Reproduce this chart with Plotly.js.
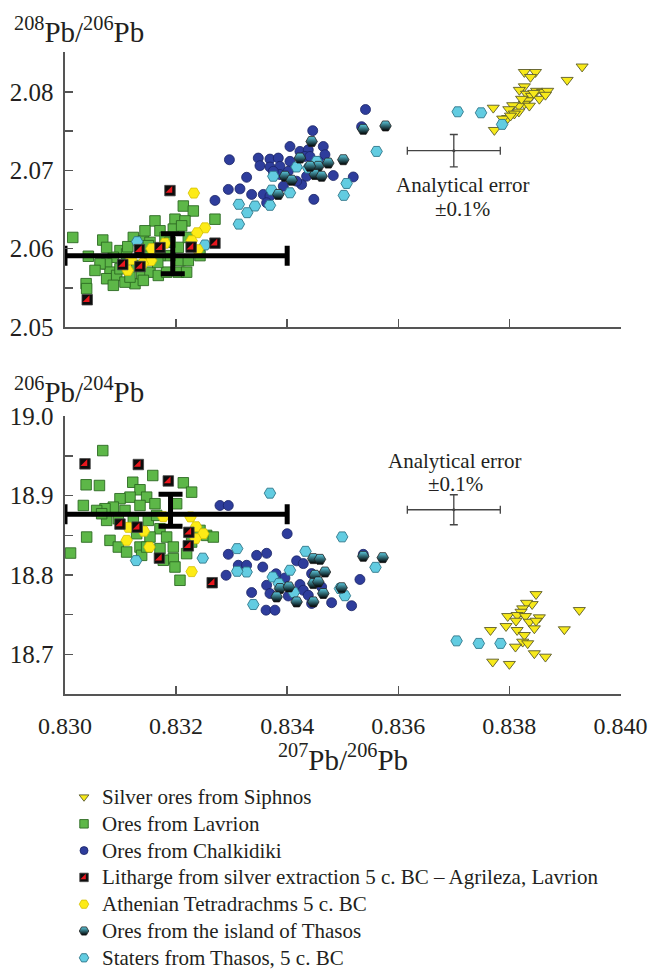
<!DOCTYPE html>
<html><head><meta charset="utf-8">
<script src="https://cdn.plot.ly/plotly-3.0.1.min.js"></script>
<style>html,body{margin:0;padding:0;background:#fff}#chart{width:648px;height:973px}</style>
</head><body><div id="chart"></div>
<script>
// ---------- data (207Pb/206Pb vs 208Pb/206Pb : "Top", vs 206Pb/204Pb : "Bot") ----------
const siphnosTopX = [0.83931,0.83904,0.83827,0.83847,0.83838,0.83827,0.83818,0.83831,0.83840,0.83849,0.83860,0.83869,0.83854,0.83833,0.83827,0.83817,0.83806,0.83799,0.83817,0.83771,0.83797,0.83788,0.83773,0.83822,0.83809,0.83836,0.83802,0.83844,0.83865];
const siphnosTopY = [2.08323,2.08152,2.08253,2.08253,2.08190,2.08070,2.08025,2.07975,2.07949,2.08013,2.08000,2.08013,2.07911,2.07892,2.07848,2.07823,2.07829,2.07778,2.07747,2.07797,2.07665,2.07658,2.07513,2.07911,2.07722,2.07823,2.07696,2.07987,2.07962];
const siphnosBotX = [0.83848,0.83926,0.83841,0.83831,0.83824,0.83821,0.83797,0.83814,0.83829,0.83854,0.83794,0.83812,0.83836,0.83848,0.83845,0.83814,0.83766,0.83899,0.83827,0.83824,0.83811,0.83845,0.83865,0.83770,0.83800,0.83833];
const siphnosBotY = [18.7758,18.7557,18.7632,18.7648,18.7578,18.7535,18.7481,18.7494,18.7481,18.7465,18.7355,18.7422,18.7409,18.7422,18.7326,18.7305,18.7305,18.7314,18.7242,18.7158,18.7095,18.7012,18.6969,18.6906,18.6877,18.7138];

const lavrionTopX = [0.83014,0.83068,0.83042,0.83038,0.83039,0.83213,0.83231,0.83270,0.83198,0.83216,0.83162,0.83171,0.83195,0.83210,0.83123,0.83141,0.83153,0.83099,0.83087,0.83111,0.83075,0.83081,0.83075,0.83093,0.83126,0.83108,0.83138,0.83153,0.83168,0.83183,0.83204,0.83219,0.83207,0.83222,0.83189,0.83171,0.83153,0.83204,0.83150,0.83180,0.83243,0.83222,0.83075,0.83063,0.83129,0.83117,0.83141,0.83099,0.83189,0.83087,0.83054,0.83113,0.83167,0.83144];
const lavrionTopY = [2.06143,2.06110,2.05903,2.05553,2.05490,2.06544,2.06481,2.06376,2.06376,2.06354,2.06354,2.06228,2.06249,2.06291,2.06143,2.06101,2.06080,2.05975,2.05890,2.05933,2.05806,2.05700,2.05616,2.05658,2.05553,2.05573,2.05680,2.05700,2.05658,2.05700,2.05700,2.05700,2.05848,2.05848,2.05911,2.05911,2.05933,2.06016,2.06038,2.06143,2.05911,2.06143,2.06016,2.05806,2.05785,2.05637,2.05595,2.05743,2.06080,2.05532,2.05722,2.06025,2.05823,2.06228];
const lavrionBotX = [0.83068,0.83038,0.83062,0.83033,0.83039,0.83010,0.83122,0.83135,0.83158,0.83213,0.83228,0.83117,0.83099,0.83147,0.83162,0.83201,0.83087,0.83072,0.83057,0.83135,0.83108,0.83075,0.83096,0.83123,0.83150,0.83165,0.83171,0.83129,0.83153,0.83183,0.83081,0.83096,0.83135,0.83171,0.83195,0.83219,0.83138,0.83195,0.83198,0.83255,0.83267,0.83243,0.83228,0.83207,0.83177,0.83111,0.83147,0.83066];
const lavrionBotY = [18.9569,18.9138,18.9129,18.8877,18.8479,18.8277,18.9170,18.9075,18.9255,18.9163,18.9045,18.8982,18.8962,18.8982,18.8899,18.8899,18.8856,18.8836,18.8814,18.8877,18.8814,18.8689,18.8710,18.8689,18.8689,18.8752,18.8584,18.8521,18.8479,18.8479,18.8437,18.8353,18.8353,18.8333,18.8353,18.8270,18.8248,18.8207,18.8101,18.8500,18.8479,18.8563,18.8416,18.7934,18.8186,18.8290,18.8353,18.8773];

const chalkTopX = [0.83541,0.83446,0.83296,0.83348,0.83369,0.83384,0.83405,0.83423,0.83438,0.83465,0.83468,0.83351,0.83369,0.83387,0.83405,0.83432,0.83327,0.83294,0.83315,0.83336,0.83357,0.83270,0.83483,0.83519,0.83448,0.83426,0.83435,0.83417,0.83393,0.83369,0.83363,0.83441,0.83456,0.83387,0.83375,0.83402,0.83534];
const chalkTopY = [2.07776,2.07506,2.07135,2.07156,2.07143,2.07156,2.07304,2.07241,2.07262,2.07304,2.07199,2.07059,2.07042,2.07051,2.07114,2.07177,2.06911,2.06756,2.06763,2.06692,2.06692,2.06616,2.06933,2.06915,2.06629,2.06819,2.06924,2.06861,2.06797,2.06671,2.06586,2.07177,2.07114,2.06946,2.06987,2.06987,2.07557];
const chalkBotX = [0.83279,0.83294,0.83400,0.83294,0.83345,0.83363,0.83312,0.83356,0.83290,0.83417,0.83429,0.83380,0.83396,0.83423,0.83429,0.83336,0.83363,0.83362,0.83378,0.83444,0.83480,0.83516,0.83531,0.83402,0.83438,0.83462,0.83369,0.83327,0.83444,0.83537];
const chalkBotY = [18.8877,18.8877,18.8521,18.8261,18.8248,18.8274,18.8123,18.8101,18.7997,18.8179,18.8144,18.8016,18.7963,18.7880,18.7808,18.7779,18.7871,18.7557,18.7557,18.7641,18.7651,18.7613,18.7944,18.7736,18.7745,18.7850,18.7767,18.8123,18.8018,18.8261];

const lithTopX = [0.83189,0.83270,0.83040,0.83134,0.83171,0.83104,0.83135,0.83227];
const lithTopY = [2.06741,2.06070,2.05348,2.05987,2.06013,2.05797,2.05772,2.06019];
const lithBotX = [0.83036,0.83132,0.83186,0.83099,0.83130,0.83223,0.83222,0.83170,0.83265];
const lithBotY = [18.9402,18.9393,18.9186,18.8642,18.8604,18.8538,18.8368,18.8213,18.7903];

const athTopX = [0.83232,0.83252,0.83238,0.83228,0.83180,0.83119,0.83155,0.83140,0.83113,0.83239,0.83156];
const athTopY = [2.06709,2.06266,2.06203,2.06101,2.06070,2.05861,2.05848,2.05810,2.05722,2.05987,2.06000];
const athBotX = [0.83114,0.83142,0.83111,0.83152,0.83236,0.83249,0.83235,0.83228,0.83177,0.83226];
const athBotY = [18.8601,18.8553,18.8437,18.8353,18.8609,18.8521,18.8459,18.8043,18.8735,18.8733];

const thasosTopX = [0.83537,0.83577,0.83444,0.83423,0.83501,0.83474,0.83456,0.83396,0.83408,0.83450,0.83462,0.83384,0.83441];
const thasosTopY = [2.07523,2.07566,2.07367,2.07156,2.07135,2.07092,2.07051,2.06924,2.06873,2.06946,2.06924,2.06692,2.07051];
const thasosBotX = [0.83447,0.83459,0.83537,0.83572,0.83450,0.83468,0.83447,0.83387,0.83403,0.83381,0.83417,0.83447,0.83498,0.83465,0.83456];
const thasosBotY = [18.8207,18.8198,18.8236,18.8219,18.7997,18.8038,18.7892,18.7830,18.7850,18.7724,18.7661,18.7661,18.7840,18.7767,18.7913];

const statersTopX = [0.83707,0.83749,0.83787,0.83561,0.83417,0.83438,0.83453,0.83375,0.83372,0.83405,0.83507,0.83502,0.83313,0.83342,0.83328,0.83369,0.83313,0.83130,0.83252];
const statersTopY = [2.07747,2.07734,2.07586,2.07241,2.07042,2.07029,2.07114,2.06924,2.06747,2.06713,2.06832,2.06680,2.06566,2.06544,2.06459,2.06553,2.06313,2.06089,2.06047];
const statersBotX = [0.83499,0.83310,0.83248,0.83433,0.83405,0.83327,0.83310,0.83374,0.83339,0.83412,0.83559,0.83504,0.83495,0.83385,0.83128,0.83369,0.83705,0.83745,0.83784];
const statersBotY = [18.8481,18.8333,18.8213,18.8299,18.8060,18.8038,18.8047,18.7975,18.7628,18.7779,18.8097,18.7739,18.7830,18.7892,18.8182,18.9032,18.7170,18.7138,18.7138];

// mean and spread crosses
const spreadTopX = [0.83194], spreadTopY = [2.0591];
const spreadTopXMinus = [0.00194], spreadTopXPlus = [0.00206], spreadTopYMinus = [0.0023], spreadTopYPlus = [0.0028];
const spreadBotX = [0.83190], spreadBotY = [18.8767];
const spreadBotXMinus = [0.0019], spreadBotXPlus = [0.0021], spreadBotYMinus = [0.0151], spreadBotYPlus = [0.0253];
// analytical error (+/-0.1%)
const analX = [0.8370], analTopY = [2.0725], analBotY = [18.8823];
const analXErr = [0.000837], analTopYErr = [0.00207], analBotYErr = [0.0189];

// ticks / labels
const xTick0 = 0.830, xDtick = 0.002;
const legendLabels = ["Silver ores from Siphnos","Ores from Lavrion","Ores from Chalkidiki",
  "Litharge from silver extraction 5 c. BC – Agrileza, Lavrion","Athenian Tetradrachms 5 c. BC",
  "Ores from the island of Thasos","Staters from Thasos, 5 c. BC"];
const legendRow = [0,1,2,3,4,5,6];

// ---------- styles ----------
const FONT = '"Liberation Serif", "Times New Roman", serif';
const S = {
  siphnos: {symbol:'triangle-down', size:10.5, color:'#f7e91a', line:{color:'#5a5a2a', width:0.9}},
  lavrion: {symbol:'square', size:10.5, color:'#5db748', line:{color:'#2d6a22', width:0.9}},
  chalk:   {symbol:'circle', size:10, color:'#2e3d9c', line:{color:'#1b2466', width:0.8}},
  lith:    {symbol:'square', size:10.5, color:'#0d0d0d', line:{color:'#444', width:0.8}},
  ath:     {symbol:'hexagon2', size:11.5, color:'#fdeb16', line:{color:'#d4bf00', width:0.8}},
  thasos:  {symbol:'hexagon2', size:11.5, color:'#5ccbe0', gradient:{type:'vertical', color:'#000000'}, line:{color:'#1f1f1f', width:0.8}},
  staters: {symbol:'hexagon2', size:11.5, color:'#62cce1', line:{color:'#2f7689', width:0.9}}
};
const RED = {symbol:'triangle-se', size:7.5, color:'#e8161d', line:{width:0}};

function pts(name, x, y, xa, ya, marker){
  return {type:'scatter', mode:'markers', name, x, y, xaxis:xa, yaxis:ya, marker, cliponaxis:false, showlegend:false, hoverinfo:'x+y+name'};
}
const traces = [];
const series = [
  ['Ores from Lavrion', lavrionTopX, lavrionTopY, lavrionBotX, lavrionBotY, S.lavrion],
  ['Ores from Chalkidiki', chalkTopX, chalkTopY, chalkBotX, chalkBotY, S.chalk],
  ['Silver ores from Siphnos', siphnosTopX, siphnosTopY, siphnosBotX, siphnosBotY, S.siphnos],
  ['Staters from Thasos, 5 c. BC', statersTopX, statersTopY, statersBotX, statersBotY, S.staters],
  ['Ores from the island of Thasos', thasosTopX, thasosTopY, thasosBotX, thasosBotY, S.thasos],
  ['Athenian Tetradrachms 5 c. BC', athTopX, athTopY, athBotX, athBotY, S.ath],
  ['Litharge', lithTopX, lithTopY, lithBotX, lithBotY, S.lith]
];
series.forEach(s => {
  traces.push(pts(s[0], s[1], s[2], 'x', 'y', s[5]));
  traces.push(pts(s[0], s[3], s[4], 'x2', 'y2', s[5]));
});
traces.push(pts('Litharge', lithTopX, lithTopY, 'x', 'y', RED));
traces.push(pts('Litharge', lithBotX, lithBotY, 'x2', 'y2', RED));

function cross(x, y, xa, ya, ex, ey, color, thick, wx, wy, msize){
  return {type:'scatter', mode:'markers', x, y, xaxis:xa, yaxis:ya, showlegend:false, cliponaxis:false, hoverinfo:'skip',
    marker:{size:msize, color:color},
    error_x:Object.assign({type:'data', symmetric:false, color:color, thickness:thick, width:wx}, ex),
    error_y:Object.assign({type:'data', symmetric:false, color:color, thickness:thick, width:wy}, ey)};
}
traces.push(cross(spreadTopX, spreadTopY, 'x', 'y', {array:spreadTopXPlus, arrayminus:spreadTopXMinus}, {array:spreadTopYPlus, arrayminus:spreadTopYMinus}, '#000', 5, 10, 12, 2));
traces.push(cross(spreadBotX, spreadBotY, 'x2', 'y2', {array:spreadBotXPlus, arrayminus:spreadBotXMinus}, {array:spreadBotYPlus, arrayminus:spreadBotYMinus}, '#000', 5, 10, 12, 2));
traces.push(cross(analX, analTopY, 'x', 'y', {array:analXErr, arrayminus:analXErr}, {array:analTopYErr, arrayminus:analTopYErr}, '#444', 1.3, 4, 4, 3));
traces.push(cross(analX, analBotY, 'x2', 'y2', {array:analXErr, arrayminus:analXErr}, {array:analBotYErr, arrayminus:analBotYErr}, '#444', 1.3, 4, 4, 3));

// legend symbols drawn on a hidden axis
const legendStyles = [S.siphnos, S.lavrion, S.chalk, S.lith, S.ath, S.thasos, S.staters];
legendStyles.forEach((st, i) => {
  const m = Object.assign({}, st, {size: st.size - 2});
  traces.push({type:'scatter', mode:'markers', x:[0], y:[legendRow[i]], xaxis:'x3', yaxis:'y3', marker:m, showlegend:false, hoverinfo:'skip', cliponaxis:false});
});
traces.push({type:'scatter', mode:'markers', x:[0], y:[legendRow[3]], xaxis:'x3', yaxis:'y3', marker:Object.assign({}, RED, {size:6}), showlegend:false, hoverinfo:'skip', cliponaxis:false});

const tickF = {family:FONT, size:25, color:'#231f20'};
const xTickF = {family:FONT, size:24, color:'#231f20'};
const axisCommon = {showgrid:false, zeroline:false, showline:true, linecolor:'#555', linewidth:1.6,
  ticks:'inside', ticklen:8, tickwidth:1.4, tickcolor:'#555', tickfont:tickF};
const tf = {family:FONT, size:29, color:'#231f20'};
const lf = {family:FONT, size:21, color:'#231f20'};
const annotations = [
  {xref:'paper', yref:'paper', x:-0.0953, y:1.0239, xanchor:'left', yanchor:'middle', showarrow:false,
   text:'<sup>208</sup>Pb/<sup>206</sup>Pb', font:tf},
  {xref:'paper', yref:'paper', x:-0.0953, y:0.6330, xanchor:'left', yanchor:'middle', showarrow:false,
   text:'<sup>206</sup>Pb/<sup>204</sup>Pb', font:tf},
  {xref:'x', yref:'y', x:0.83716, y:2.0681, showarrow:false, text:'Analytical error', font:lf},
  {xref:'x', yref:'y', x:0.83716, y:2.0651, showarrow:false, text:'±0.1%', font:lf},
  {xref:'x2', yref:'y2', x:0.83703, y:18.9443, showarrow:false, text:'Analytical error', font:lf},
  {xref:'x2', yref:'y2', x:0.83703, y:18.9142, showarrow:false, text:'±0.1%', font:lf}
];
legendLabels.forEach((t, i) => annotations.push({xref:'x3', yref:'y3', x:0, y:legendRow[i], xshift:16, xanchor:'left', yanchor:'middle',
  showarrow:false, text:t, font:lf}));

const layout = {
  width:648, height:973, margin:{l:65, r:27, t:52, b:0}, paper_bgcolor:'#fff', plot_bgcolor:'rgba(0,0,0,0)',
  showlegend:false, font:{family:FONT, size:21, color:'#231f20'},
  xaxis: Object.assign({}, axisCommon, {domain:[0,1], anchor:'y', range:[0.830,0.84001], tick0:xTick0, dtick:xDtick, showticklabels:false}),
  yaxis: Object.assign({}, axisCommon, {domain:[0.70141,1], anchor:'x', range:[2.05,2.0851], tick0:2.05, dtick:0.01, tickformat:'.2f', ticklabelstandoff:5,
    minor:{dtick:0.005, tick0:2.05, ticks:'inside', ticklen:8, tickwidth:1.4, tickcolor:'#555', showgrid:false}}),
  xaxis2: Object.assign({}, axisCommon, {domain:[0,1], anchor:'y2', range:[0.830,0.84001], tick0:xTick0, dtick:xDtick, tickformat:'.3f',
    tickfont:xTickF, ticklabelstandoff:10, title:{text:'<sup>207</sup>Pb/<sup>206</sup>Pb', font:tf, standoff:3}}),
  yaxis2: Object.assign({}, axisCommon, {domain:[0.30293,0.60477], anchor:'x2', range:[18.65,19.0005], tick0:18.7, dtick:0.1, tickformat:'.1f', ticklabelstandoff:5,
    minor:{dtick:0.05, tick0:18.65, ticks:'inside', ticklen:8, tickwidth:1.4, tickcolor:'#555', showgrid:false}}),
  xaxis3: {domain:[0,1], anchor:'y3', range:[-0.0342,0.9658], visible:false, fixedrange:true},
  yaxis3: {domain:[0,0.20413], anchor:'x3', range:[6.567,-0.448], visible:false, fixedrange:true},
  annotations
};
Plotly.newPlot('chart', traces, layout, {displayModeBar:false, staticPlot:true});
</script></body></html>
